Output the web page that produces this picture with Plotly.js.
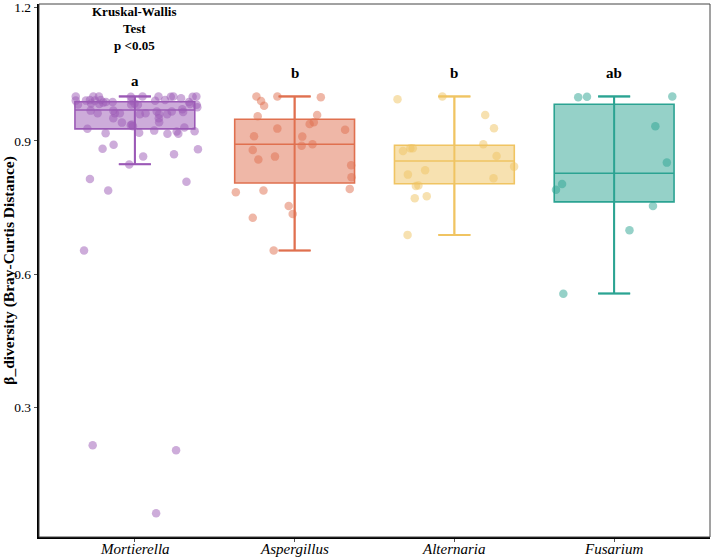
<!DOCTYPE html>
<html>
<head>
<meta charset="utf-8">
<script src="https://cdn.plot.ly/plotly-3.0.1.min.js"></script>
<style>
  html, body { margin: 0; padding: 0; background: #ffffff; }
  #chart { width: 715px; height: 560px; }
</style>
</head>
<body>
<div id="chart"></div>
<script>
// Genera compared and their Bray-Curtis box statistics
const genera = ['Mortierella', 'Aspergillus', 'Alternaria', 'Fusarium'];
const q1 = [0.927, 0.805, 0.8035, 0.7627];
const medians = [0.9695, 0.8924, 0.8548, 0.8272];
const q3 = [0.988, 0.9486, 0.8902, 0.9823];
const lowerWhisker = [0.8474, 0.6531, 0.6884, 0.5564];
const upperWhisker = [1.0, 1.0, 1.0, 1.0];

// Post-hoc group letters and where they sit
const groupLetters = ['a', 'b', 'b', 'ab'];
const letterY = [1.035, 1.052, 1.052, 1.052];

// Y-axis ticks
const yTickVals = [0.3, 0.6, 0.9, 1.2];
const yTickText = ['0.3', '0.6', '0.9', '1.2'];

// Pairwise distances per genus, with their horizontal jitter
const mortierellaDist = [
  1.000, 1.000, 1.000, 0.999, 1.000, 1.000, 0.999, 1.000, 0.996, 0.999, 1.000,
  0.9905, 0.982, 0.9905, 0.992, 0.984, 0.9905, 0.983, 0.992, 0.986, 0.9875,
  0.9875, 0.9905, 0.982, 0.984, 0.981, 0.990, 0.992, 0.9875, 0.983, 0.981,
  0.968, 0.962, 0.968, 0.962, 0.962, 0.960, 0.962, 0.966, 0.960, 0.960,
  0.966, 0.971, 0.965, 0.9755,
  0.951, 0.941, 0.951, 0.942, 0.937,
  0.927, 0.917, 0.935, 0.933, 0.918, 0.923, 0.916, 0.921, 0.916, 0.930, 0.9215,
  0.882, 0.891, 0.865, 0.870, 0.881, 0.847,
  0.814, 0.788, 0.808, 0.653, 0.215, 0.204, 0.062
];
const mortierellaJitter = [
  -0.370, -0.260, -0.225, -0.025, 0.048, 0.148, 0.225, 0.241, 0.289, 0.362, 0.385,
  -0.370, -0.356, -0.306, -0.281, -0.274, -0.250, -0.223, -0.214, -0.198, -0.181,
  -0.139, -0.021, -0.023, -0.002, 0.019, 0.127, 0.189, 0.339, 0.345, 0.387,
  -0.277, -0.233, -0.135, -0.125, -0.094, 0.031, 0.067, 0.137, 0.152, 0.202,
  0.231, 0.297, 0.302, 0.391,
  -0.135, -0.081, 0.150, 0.152, -0.019,
  -0.297, -0.183, -0.025, -0.012, 0.027, 0.121, 0.204, 0.262, 0.272, 0.310, 0.374,
  -0.202, -0.133, 0.052, 0.245, 0.395, -0.035,
  -0.281, -0.167, 0.323, -0.318, -0.264, 0.258, 0.133
];

const aspergillusDist = [
  1.000, 1.000, 0.998, 0.9897, 0.9792, 0.9553, 0.9583, 0.9418, 0.938, 0.9275,
  0.9252, 0.9104, 0.9095, 0.8892, 0.8924, 0.8796, 0.8645, 0.8578, 0.8452,
  0.8182, 0.7919, 0.7844, 0.788, 0.7536, 0.7356, 0.7267, 0.6531
];
const aspergillusJitter = [
  -0.239, -0.108, 0.164, -0.210, -0.191, -0.231, 0.141, 0.120, 0.094, -0.108,
  0.316, -0.254, 0.048, 0.044, 0.112, -0.262, -0.123, -0.227, 0.354,
  0.356, 0.345, -0.368, -0.195, -0.037, -0.012, -0.262, -0.131
];

const alternariaDist = [
  0.9936, 1.000, 0.9583, 0.9284, 0.8924, 0.8773, 0.8834, 0.8834, 0.866,
  0.842, 0.834, 0.824, 0.816, 0.7986, 0.7993, 0.771, 0.7755, 0.6884
];
const alternariaJitter = [
  -0.356, -0.075, 0.193, 0.248, 0.181, -0.322, -0.276, -0.260, 0.264,
  0.374, -0.183, -0.291, 0.245, -0.241, -0.225, -0.248, -0.173, -0.293
];

const fusariumDist = [0.998, 0.999, 1.000, 0.933, 0.851, 0.803, 0.790, 0.7536, 0.699, 0.556];
const fusariumJitter = [-0.225, -0.170, 0.364, 0.258, 0.330, -0.326, -0.364, 0.243, 0.096, -0.318];

const pointSets = [
  [mortierellaDist, mortierellaJitter],
  [aspergillusDist, aspergillusJitter],
  [alternariaDist, alternariaJitter],
  [fusariumDist, fusariumJitter]
];

// Palette: [r, g, b] per genus
const palette = [[155, 89, 182], [224, 112, 79], [240, 196, 98], [43, 163, 146]];
const rgb = (c, a) => `rgba(${c[0]},${c[1]},${c[2]},${a})`;

const serif = 'Liberation Serif';
const traces = [];

genera.forEach((g, i) => {
  const col = palette[i];
  // Box body with median
  traces.push({
    type: 'box',
    x: [i],
    q1: [q1[i]],
    median: [medians[i]],
    q3: [q3[i]],
    lowerfence: [lowerWhisker[i]],
    upperfence: [upperWhisker[i]],
    width: 0.75,
    whiskerwidth: 0.267,
    fillcolor: rgb(col, 0.5),
    line: { color: rgb(col, 1), width: 1.6 },
    hoverinfo: 'skip',
    showlegend: false
  });
  // Error-bar style whisker running through the box
  traces.push({
    type: 'scatter',
    mode: 'markers',
    x: [i],
    y: [medians[i]],
    marker: { size: 1, color: 'rgba(0,0,0,0)' },
    error_y: {
      type: 'data',
      symmetric: false,
      array: [upperWhisker[i] - medians[i]],
      arrayminus: [medians[i] - lowerWhisker[i]],
      color: rgb(col, 1),
      thickness: 2,
      width: 16
    },
    hoverinfo: 'skip',
    showlegend: false
  });
});

// Jittered observations on top
genera.forEach((g, i) => {
  const [dist, jit] = pointSets[i];
  traces.push({
    type: 'scatter',
    mode: 'markers',
    x: jit.map(j => i + j),
    y: dist,
    marker: { size: 8.5, color: rgb(palette[i], 0.5), line: { width: 0 } },
    hoverinfo: 'skip',
    showlegend: false
  });
});

const annotations = groupLetters.map((t, i) => ({
  x: i, y: letterY[i], xref: 'x', yref: 'y',
  text: '<b>' + t + '</b>', showarrow: false,
  font: { family: serif, size: 15, color: '#000' }
}));
annotations.push({
  x: 0, y: 1.171, xref: 'x', yref: 'y',
  text: '<b>Kruskal-Wallis<br>Test</b>', showarrow: false,
  font: { family: serif, size: 13, color: '#000' }
});
annotations.push({
  x: 0, y: 1.114, xref: 'x', yref: 'y',
  text: '<b>p <0.05</b>', showarrow: false,
  font: { family: serif, size: 13, color: '#000' }
});
// Genus names under the axis, set in italics
genera.forEach((g, i) => {
  annotations.push({
    x: i, y: 0, xref: 'x', yref: 'paper',
    yanchor: 'top', yshift: -2,
    text: '<i>' + g + '</i>', showarrow: false,
    font: { family: serif, size: 15, color: '#000' }
  });
});

const layout = {
  width: 715,
  height: 560,
  margin: { l: 39, r: 5, t: 4, b: 23 },
  paper_bgcolor: '#ffffff',
  plot_bgcolor: '#ffffff',
  showlegend: false,
  xaxis: {
    range: [-0.6, 3.6],
    tickvals: [0, 1, 2, 3],
    showticklabels: false,
    showline: true, linecolor: '#000', linewidth: 2.2,
    ticks: 'outside', ticklen: 3, tickcolor: '#555', tickwidth: 1,
    showgrid: false, zeroline: false, fixedrange: true
  },
  yaxis: {
    range: [0.0086, 1.2079],
    tickvals: yTickVals,
    ticktext: yTickText,
    tickfont: { family: serif, size: 13.5, color: '#000' },
    showline: true, linecolor: '#000', linewidth: 2.2,
    ticks: 'outside', ticklen: 3, tickcolor: '#555', tickwidth: 1,
    showgrid: false, zeroline: false, fixedrange: true,
    title: {
      text: '<b>β_diversity (Bray-Curtis Distance)</b>',
      font: { family: serif, size: 15.5, color: '#000' },
      standoff: 5
    }
  },
  shapes: [{
    type: 'rect', xref: 'paper', yref: 'paper',
    x0: 0, x1: 1, y0: 0, y1: 1,
    line: { color: '#444', width: 1 }
  }],
  annotations: annotations
};

Plotly.newPlot('chart', traces, layout, { staticPlot: true, displayModeBar: false });
</script>
</body>
</html>
